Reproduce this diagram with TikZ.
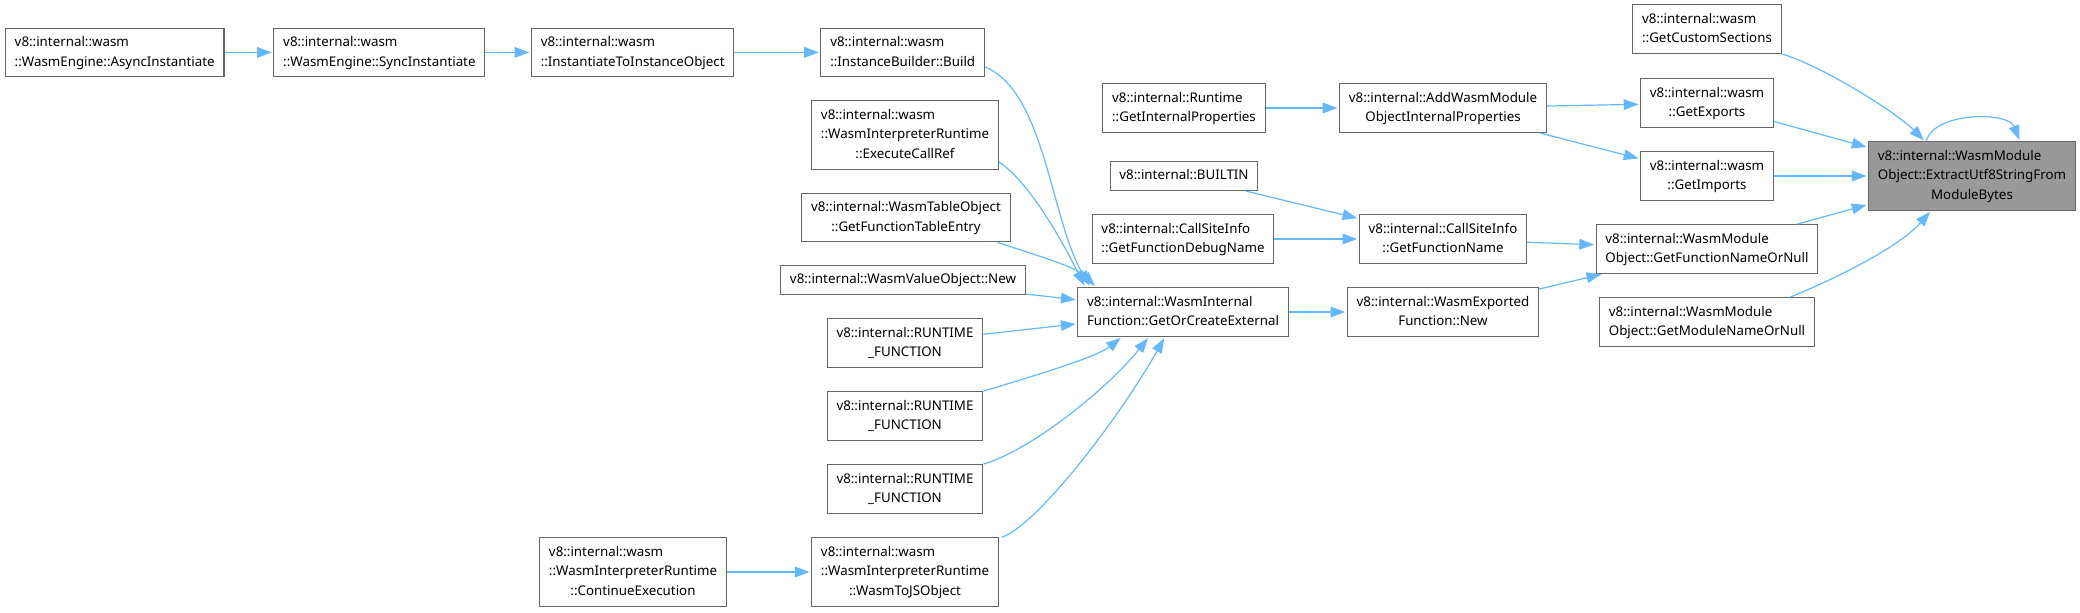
\documentclass[tikz,border=0pt]{standalone}
\usepackage{fontspec}
\setmainfont{Noto Sans}
\usetikzlibrary{arrows.meta,calc}
\definecolor{LinkClr}{HTML}{63B8FF}
\definecolor{BoxClr}{HTML}{666666}
\definecolor{TargetClr}{HTML}{999999}

\renewcommand{\arraystretch}{1.22}
\newcommand{\lblone}[1]{\begin{tabular}{@{}c@{}}#1\end{tabular}}
\newcommand{\lbltwo}[2]{\begin{tabular}{@{}c@{}}\multicolumn{1}{@{}l@{}}{#1}\\#2\end{tabular}}
\newcommand{\lblthree}[3]{\begin{tabular}{@{}c@{}}\multicolumn{1}{@{}l@{}}{#1}\\\multicolumn{1}{@{}l@{}}{#2}\\#3\end{tabular}}

\begin{document}
\begin{tikzpicture}[x=0.75pt,y=-0.75pt,
  fn/.style={draw=BoxClr,fill=white,line width=0.8pt,inner xsep=7pt,inner ysep=3.6pt},
  target/.style={fn,fill=TargetClr},
  link/.style={draw=LinkClr,line width=0.9pt,shorten >=1.2pt,-{Triangle[length=11pt,width=8pt]}}]
\useasboundingbox (0,0) rectangle (2080,612);

\node[fn] (async) at (114.7,52.4) {\lbltwo{v8::internal::wasm}{::WasmEngine::AsyncInstantiate}};
\node[fn] (sync) at (379.4,52.4) {\lbltwo{v8::internal::wasm}{::WasmEngine::SyncInstantiate}};
\node[fn] (inst) at (632.7,52.4) {\lbltwo{v8::internal::wasm}{::InstantiateToInstanceObject}};
\node[fn] (build) at (902.7,52.4) {\lbltwo{v8::internal::wasm}{::InstanceBuilder::Build}};
\node[fn] (callref) at (905,135) {\lblthree{v8::internal::wasm}{::WasmInterpreterRuntime}{::ExecuteCallRef}};
\node[fn] (tableentry) at (906,217.5) {\lbltwo{v8::internal::WasmTableObject}{::GetFunctionTableEntry}};
\node[fn] (valuenew) at (903,280) {\lblone{v8::internal::WasmValueObject::New}};
\node[fn] (rtfa) at (905,343) {\lbltwo{v8::internal::RUNTIME}{\_FUNCTION}};
\node[fn] (rtfb) at (905,416) {\lbltwo{v8::internal::RUNTIME}{\_FUNCTION}};
\node[fn] (rtfc) at (905,489) {\lbltwo{v8::internal::RUNTIME}{\_FUNCTION}};
\node[fn] (tojs) at (905,572) {\lblthree{v8::internal::wasm}{::WasmInterpreterRuntime}{::WasmToJSObject}};
\node[fn] (contexec) at (633,572) {\lblthree{v8::internal::wasm}{::WasmInterpreterRuntime}{::ContinueExecution}};
\node[fn] (external) at (1183,312) {\lbltwo{v8::internal::WasmInternal}{Function::GetOrCreateExternal}};
\node[fn] (intprops) at (1184,108) {\lbltwo{v8::internal::Runtime}{::GetInternalProperties}};
\node[fn] (addprops) at (1443,108) {\lbltwo{v8::internal::AddWasmModule}{ObjectInternalProperties}};
\node[fn] (builtin) at (1184,176) {\lblone{v8::internal::BUILTIN}};
\node[fn] (debugname) at (1183,239) {\lbltwo{v8::internal::CallSiteInfo}{::GetFunctionDebugName}};
\node[fn] (funcname) at (1443,239) {\lbltwo{v8::internal::CallSiteInfo}{::GetFunctionName}};
\node[fn] (exported) at (1443,312) {\lbltwo{v8::internal::WasmExported}{Function::New}};
\node[fn] (sections) at (1707,29) {\lbltwo{v8::internal::wasm}{::GetCustomSections}};
\node[fn] (exports) at (1707,103) {\lbltwo{v8::internal::wasm}{::GetExports}};
\node[fn] (imports) at (1707,176) {\lbltwo{v8::internal::wasm}{::GetImports}};
\node[fn] (nameornull) at (1707,249) {\lbltwo{v8::internal::WasmModule}{Object::GetFunctionNameOrNull}};
\node[fn] (modnameornull) at (1707,322) {\lbltwo{v8::internal::WasmModule}{Object::GetModuleNameOrNull}};
\node[target] (extract) at (1972,176) {\lblthree{v8::internal::WasmModule}{Object::ExtractUtf8StringFrom}{ModuleBytes}};

\draw[link] (async) -- (sync);
\draw[link] (sync) -- (inst);
\draw[link] (inst) -- (build);
\draw[link] (build.-10) .. controls +(60,25) and +(-40,-70) .. ($(external.north west)+(13,0)$);
\draw[link] (callref.-16) .. controls +(30,20) and +(-25,-50) .. ($(external.north west)+(8,0)$);
\draw[link] ($(tableentry.south east)+(-13,0)$) .. controls +(45,15) and +(-20,-20) .. ($(external.north west)+(19,0)$);
\draw[link] (valuenew) -- (external);
\draw[link] (rtfa) -- (external);
\draw[link] (rtfb.north east) .. controls +(50,-15) and +(-25,20) .. ($(external.south)+(-61,0)$);
\draw[link] (rtfc.north east) .. controls +(50,-15) and +(-40,50) .. ($(external.south)+(-34,0)$);
\draw[link] ($(tojs.north east)+(3,0)$) .. controls +(37,-14) and +(-45,80) .. ($(external.south)+(-18,0)$);
\draw[link] (contexec) -- (tojs);
\draw[link] (external) -- (exported);
\draw[link] (intprops) -- (addprops);
\draw[link] (addprops) -- (exports);
\draw[link] (addprops) -- (imports);
\draw[link] (builtin) -- (funcname);
\draw[link] (debugname) -- (funcname);
\draw[link] (funcname) -- (nameornull);
\draw[link] (exported) -- (nameornull);
\draw[link] (sections.south east) .. controls +(40,12) and +(-30,-30) .. ($(extract.north west)+(57,0)$);
\draw[link] (exports) -- (extract);
\draw[link] (imports) -- (extract);
\draw[link] (nameornull) -- (extract);
\draw[link] ($(modnameornull.north)+(83,0)$) .. controls +(30,-12) and +(-35,40) .. ($(extract.south west)+(63,0)$);
\draw[link] ($(extract.north west)+(58,0)$) .. controls +(8,-30) and +(-12,-30) .. ($(extract.north west)+(152,0)$);
\end{tikzpicture}
\end{document}
